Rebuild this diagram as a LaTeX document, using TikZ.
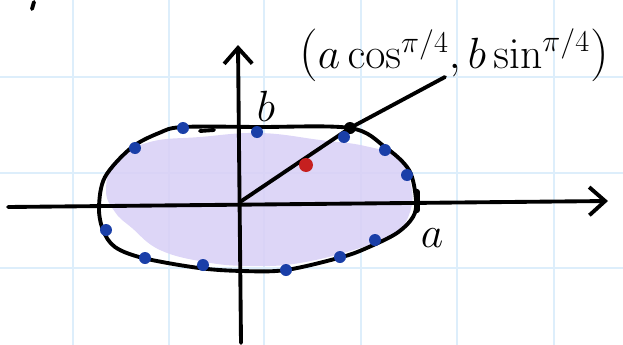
\documentclass[tikz,border=0pt]{standalone}
\usepackage{amsmath}
\usepackage{tikz}
\usetikzlibrary{arrows.meta}

\definecolor{gridblue}{HTML}{DDEEFB}
\definecolor{lavender}{HTML}{D9D1F6}
\definecolor{dotblue}{HTML}{1A3FA8}
\definecolor{dotred}{HTML}{C6201F}

\newcommand{\bigparen}[1]{{\fontsize{30}{30}\selectfont #1}}

\begin{document}
\begin{tikzpicture}[x=0.02cm, y=-0.02cm, >={Straight Barb[length=9pt, width=16pt]},
    pen/.style={line width=2.2pt, line cap=round, line join=round},
    gridline/.style={draw=gridblue, line width=1.6pt},
    bluedot/.style={fill=dotblue},
    every node/.style={font=\fontsize{24}{26}\selectfont, inner sep=1pt}]
    \useasboundingbox (0,0) rectangle (623,345);

    % grid
    \foreach \gx in {73,169,264,361,457,554}
        \draw[gridline] (\gx,0) -- (\gx,345);
    \foreach \gy in {77,173,268}
        \draw[gridline] (0,\gy) -- (623,\gy);

    % shaded interior
    \fill[lavender, opacity=0.9] plot[smooth cycle, tension=0.7] coordinates {
        (106,190) (116,160) (150,142) (200,137) (260,133) (320,140)
        (365,146) (398,158) (411,185) (410,212) (395,233) (360,248)
        (300,263) (250,266) (205,262) (160,250) (132,228) (115,212)};

    % ellipse
    \draw[pen] plot[smooth cycle, tension=0.55] coordinates {
        (183,127) (258,127) (350,128) (385,147) (409,170) (416,200)
        (413,217) (397,233) (369,247) (342,257) (286,270) (242,271)
        (199,268) (143,258) (115,247) (103,230) (99,207) (105,177)
        (131,148) (159,133)};
    \draw[pen] (200,131) -- (214,130);
    \draw[line width=3.5pt, line cap=round] (417,192) -- (417,210);

    % axes
    \draw[pen, ->] (8,207) -- (608,201);
    \draw[pen, ->] (241,343) -- (238,45);

    % ray through the point
    \coordinate (O) at (240,202);
    \coordinate (P) at (350,128);
    \coordinate (E) at (445,77);
    \draw[pen] (O) -- (P) -- (E);
    \fill (P) circle [radius=6];
    \fill[dotred] (306,165) circle [radius=7];

    % blue marks on the ellipse
    \foreach \bx/\by in {183/128, 135/148, 257/132, 344/137, 385/150, 407/175,
                         375/240, 340/257, 286/270, 203/265, 145/258, 106/230}
        \fill[bluedot] (\bx,\by) circle [radius=6];

    % labels
    \node (blabel) at (266,106) {$b$};
    \node (alabel) at (432,238) {$a$};
    \node (plabel) at (454,55) {\bigparen{(}$a\cos^{\pi/4}, b\sin^{\pi/4}$\bigparen{)}};
    \draw[pen] (34,2) -- (32,9);
\end{tikzpicture}
\end{document}
